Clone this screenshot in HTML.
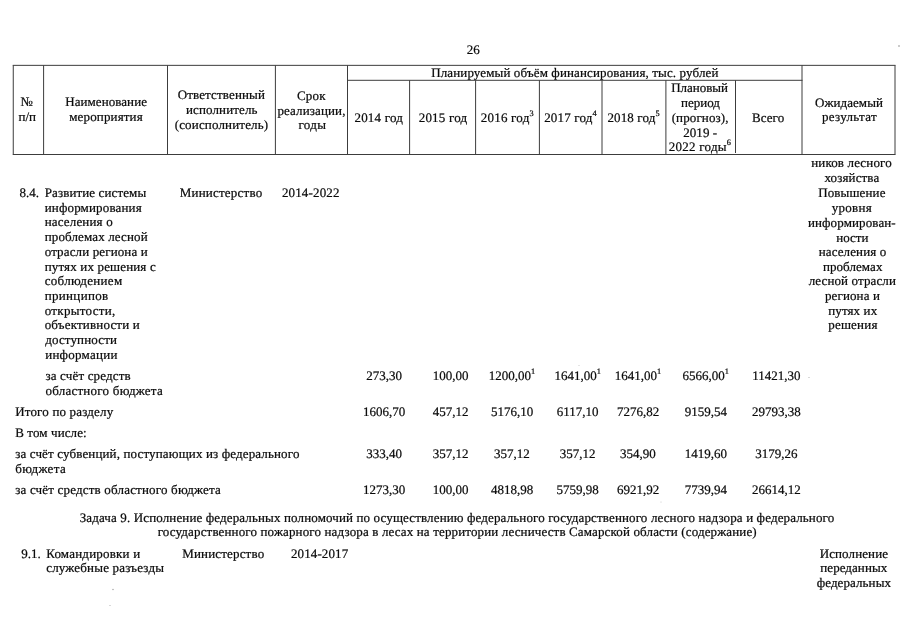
<!DOCTYPE html>
<html><head><meta charset="utf-8"><title>26</title><style>
html,body{margin:0;padding:0;background:#fff;}
body{width:905px;height:640px;position:relative;overflow:hidden;font-family:"Liberation Serif",serif;font-size:13.0px;line-height:16px;color:#0a0a0a;text-rendering:geometricPrecision;-webkit-text-stroke:0.22px #0a0a0a;}
#tx{position:absolute;left:0;top:0;width:905px;height:640px;will-change:transform;}
.t{position:absolute;white-space:nowrap;}
.s{font-size:8.3px;position:relative;top:-5.6px;letter-spacing:0;}
</style></head><body>
<svg width="905" height="640" viewBox="0 0 905 640" style="position:absolute;left:0;top:0">
<line x1="12.75" y1="65.35" x2="895.50" y2="65.35" stroke="#3c3c3c" stroke-width="1.00"/>
<line x1="12.75" y1="154.50" x2="895.50" y2="154.50" stroke="#3c3c3c" stroke-width="1.00"/>
<line x1="347.50" y1="80.30" x2="802.50" y2="80.30" stroke="#3c3c3c" stroke-width="1.00"/>
<line x1="13.25" y1="65.35" x2="13.25" y2="154.50" stroke="#3c3c3c" stroke-width="1.00"/>
<line x1="43.60" y1="65.35" x2="43.60" y2="154.50" stroke="#3c3c3c" stroke-width="1.00"/>
<line x1="167.50" y1="65.35" x2="167.50" y2="154.50" stroke="#3c3c3c" stroke-width="1.00"/>
<line x1="275.40" y1="65.35" x2="275.40" y2="154.50" stroke="#3c3c3c" stroke-width="1.00"/>
<line x1="347.50" y1="65.35" x2="347.50" y2="154.50" stroke="#3c3c3c" stroke-width="1.00"/>
<line x1="802.00" y1="65.35" x2="802.00" y2="154.50" stroke="#3c3c3c" stroke-width="1.00"/>
<line x1="895.00" y1="65.35" x2="895.00" y2="154.50" stroke="#3c3c3c" stroke-width="1.00"/>
<line x1="409.60" y1="80.30" x2="409.60" y2="154.50" stroke="#3c3c3c" stroke-width="1.00"/>
<line x1="475.60" y1="80.30" x2="475.60" y2="154.50" stroke="#3c3c3c" stroke-width="1.00"/>
<line x1="539.40" y1="80.30" x2="539.40" y2="154.50" stroke="#3c3c3c" stroke-width="1.00"/>
<line x1="602.00" y1="80.30" x2="602.00" y2="154.50" stroke="#3c3c3c" stroke-width="1.00"/>
<line x1="665.90" y1="80.30" x2="665.90" y2="154.50" stroke="#3c3c3c" stroke-width="1.00"/>
<line x1="735.50" y1="80.30" x2="735.50" y2="153.00" stroke="#3c3c3c" stroke-width="1.00"/>
<circle cx="113.0" cy="589.5" r="0.7" fill="#999"/>
<circle cx="110.0" cy="605.5" r="0.6" fill="#aaa"/>
<circle cx="899.0" cy="46.0" r="0.8" fill="#888"/>
<circle cx="809.0" cy="377.5" r="0.6" fill="#aaa"/>
<circle cx="661.0" cy="502.0" r="0.5" fill="#bbb"/>
<circle cx="579.0" cy="365.5" r="0.5" fill="#bbb"/>
</svg>
<div id="tx">
<div class="t" style="left:466.70px;top:41.75px;letter-spacing:0.000px">26</div>
<div class="t" style="left:20.62px;top:94.40px;letter-spacing:0.350px">№</div>
<div class="t" style="left:18.45px;top:109.40px;letter-spacing:-0.016px">п/п</div>
<div class="t" style="left:65.20px;top:94.40px;letter-spacing:0.068px">Наименование</div>
<div class="t" style="left:69.20px;top:109.40px;letter-spacing:0.148px">мероприятия</div>
<div class="t" style="left:177.70px;top:87.25px;letter-spacing:0.134px">Ответственный</div>
<div class="t" style="left:185.95px;top:102.25px;letter-spacing:0.122px">исполнитель</div>
<div class="t" style="left:174.70px;top:116.75px;letter-spacing:0.163px">(соисполнитель)</div>
<div class="t" style="left:296.95px;top:88.00px;letter-spacing:0.250px">Срок</div>
<div class="t" style="left:277.45px;top:103.00px;letter-spacing:0.120px">реализации,</div>
<div class="t" style="left:298.43px;top:117.25px;letter-spacing:0.350px">годы</div>
<div class="t" style="left:431.20px;top:65.00px;letter-spacing:0.126px">Планируемый объём финансирования, тыс. рублей</div>
<div class="t" style="left:354.45px;top:110.00px;letter-spacing:0.214px">2014 год</div>
<div class="t" style="left:418.70px;top:110.00px;letter-spacing:0.214px">2015 год</div>
<div class="t" style="left:480.70px;top:110.00px;letter-spacing:0.230px">2016 год<span class="s">3</span></div>
<div class="t" style="left:544.20px;top:110.00px;letter-spacing:0.168px">2017 год<span class="s">4</span></div>
<div class="t" style="left:607.45px;top:110.00px;letter-spacing:0.137px">2018 год<span class="s">5</span></div>
<div class="t" style="left:671.20px;top:80.00px;letter-spacing:-0.027px">Плановый</div>
<div class="t" style="left:681.03px;top:95.00px;letter-spacing:0.000px">период</div>
<div class="t" style="left:671.70px;top:109.75px;letter-spacing:0.106px">(прогноз),</div>
<div class="t" style="left:683.20px;top:124.75px;letter-spacing:0.081px">2019 -</div>
<div class="t" style="left:668.70px;top:138.75px;letter-spacing:0.262px">2022 годы<span class="s">6</span></div>
<div class="t" style="left:751.95px;top:109.75px;letter-spacing:0.090px">Всего</div>
<div class="t" style="left:814.95px;top:95.00px;letter-spacing:0.074px">Ожидаемый</div>
<div class="t" style="left:821.95px;top:109.40px;letter-spacing:0.330px">результат</div>
<div class="t" style="left:811.20px;top:155.00px;letter-spacing:0.143px">ников лесного</div>
<div class="t" style="left:824.45px;top:169.75px;letter-spacing:0.123px">хозяйства</div>
<div class="t" style="left:818.20px;top:184.50px;letter-spacing:0.127px">Повышение</div>
<div class="t" style="left:831.70px;top:199.50px;letter-spacing:0.284px">уровня</div>
<div class="t" style="left:807.95px;top:214.50px;letter-spacing:0.116px">информирован-</div>
<div class="t" style="left:836.20px;top:229.60px;letter-spacing:0.012px">ности</div>
<div class="t" style="left:818.70px;top:243.75px;letter-spacing:0.117px">населения о</div>
<div class="t" style="left:822.95px;top:258.50px;letter-spacing:0.072px">проблемах</div>
<div class="t" style="left:808.70px;top:273.00px;letter-spacing:0.121px">лесной отрасли</div>
<div class="t" style="left:824.95px;top:287.75px;letter-spacing:0.125px">региона и</div>
<div class="t" style="left:828.20px;top:302.50px;letter-spacing:0.121px">путях их</div>
<div class="t" style="left:828.20px;top:317.25px;letter-spacing:0.216px">решения</div>
<div class="t" style="left:19.50px;top:184.60px;letter-spacing:0.000px">8.4.</div>
<div class="t" style="left:44.70px;top:184.50px;letter-spacing:0.113px">Развитие системы</div>
<div class="t" style="left:44.70px;top:199.50px;letter-spacing:0.156px">информирования</div>
<div class="t" style="left:44.70px;top:214.25px;letter-spacing:0.167px">населения о</div>
<div class="t" style="left:44.70px;top:229.00px;letter-spacing:0.138px">проблемах лесной</div>
<div class="t" style="left:44.70px;top:243.75px;letter-spacing:0.131px">отрасли региона и</div>
<div class="t" style="left:44.70px;top:258.50px;letter-spacing:0.154px">путях их решения с</div>
<div class="t" style="left:44.70px;top:273.00px;letter-spacing:0.309px">соблюдением</div>
<div class="t" style="left:44.70px;top:288.00px;letter-spacing:0.326px">принципов</div>
<div class="t" style="left:44.70px;top:302.50px;letter-spacing:0.294px">открытости,</div>
<div class="t" style="left:44.70px;top:317.25px;letter-spacing:0.171px">объективности и</div>
<div class="t" style="left:45.20px;top:331.75px;letter-spacing:0.138px">доступности</div>
<div class="t" style="left:45.20px;top:346.50px;letter-spacing:0.259px">информации</div>
<div class="t" style="left:179.70px;top:184.50px;letter-spacing:0.213px">Министерство</div>
<div class="t" style="left:281.95px;top:184.75px;letter-spacing:0.145px">2014-2022</div>
<div class="t" style="left:45.45px;top:368.00px;letter-spacing:0.162px">за счёт средств</div>
<div class="t" style="left:45.45px;top:382.50px;letter-spacing:0.239px">областного бюджета</div>
<div class="t" style="left:15.20px;top:403.75px;letter-spacing:0.173px">Итого по разделу</div>
<div class="t" style="left:15.20px;top:425.00px;letter-spacing:0.109px">В том числе:</div>
<div class="t" style="left:15.20px;top:446.00px;letter-spacing:0.142px">за счёт субвенций, поступающих из федерального</div>
<div class="t" style="left:15.20px;top:460.50px;letter-spacing:0.336px">бюджета</div>
<div class="t" style="left:15.20px;top:481.75px;letter-spacing:0.184px">за счёт средств областного бюджета</div>
<div class="t" style="left:79.70px;top:509.50px;letter-spacing:0.132px">Задача 9. Исполнение федеральных полномочий по осуществлению федерального государственного лесного надзора и федерального</div>
<div class="t" style="left:157.70px;top:524.00px;letter-spacing:0.140px">государственного пожарного надзора в лесах на территории лесничеств Самарской области (содержание)</div>
<div class="t" style="left:21.25px;top:545.50px;letter-spacing:0.000px">9.1.</div>
<div class="t" style="left:46.20px;top:545.50px;letter-spacing:0.204px">Командировки и</div>
<div class="t" style="left:46.20px;top:560.40px;letter-spacing:0.187px">служебные разъезды</div>
<div class="t" style="left:182.20px;top:545.60px;letter-spacing:0.168px">Министерство</div>
<div class="t" style="left:290.95px;top:545.60px;letter-spacing:0.113px">2014-2017</div>
<div class="t" style="left:819.70px;top:545.75px;letter-spacing:0.106px">Исполнение</div>
<div class="t" style="left:820.30px;top:560.40px;letter-spacing:0.060px">переданных</div>
<div class="t" style="left:816.70px;top:574.75px;letter-spacing:0.089px">федеральных</div>
<div class="t" style="left:366.32px;top:367.50px;letter-spacing:0.000px">273,30</div>
<div class="t" style="left:432.82px;top:367.50px;letter-spacing:0.000px">100,00</div>
<div class="t" style="left:488.80px;top:367.50px;letter-spacing:0.000px">1200,00<span class="s">1</span></div>
<div class="t" style="left:554.40px;top:367.50px;letter-spacing:0.000px">1641,00<span class="s">1</span></div>
<div class="t" style="left:614.80px;top:367.50px;letter-spacing:0.000px">1641,00<span class="s">1</span></div>
<div class="t" style="left:682.60px;top:367.50px;letter-spacing:0.000px">6566,00<span class="s">1</span></div>
<div class="t" style="left:752.16px;top:367.50px;letter-spacing:0.000px">11421,30</div>
<div class="t" style="left:363.07px;top:403.50px;letter-spacing:0.000px">1606,70</div>
<div class="t" style="left:432.82px;top:403.50px;letter-spacing:0.000px">457,12</div>
<div class="t" style="left:490.88px;top:403.50px;letter-spacing:0.000px">5176,10</div>
<div class="t" style="left:556.71px;top:403.50px;letter-spacing:0.000px">6117,10</div>
<div class="t" style="left:616.88px;top:403.50px;letter-spacing:0.000px">7276,82</div>
<div class="t" style="left:684.67px;top:403.50px;letter-spacing:0.000px">9159,54</div>
<div class="t" style="left:751.92px;top:403.50px;letter-spacing:0.000px">29793,38</div>
<div class="t" style="left:366.32px;top:446.00px;letter-spacing:0.000px">333,40</div>
<div class="t" style="left:432.82px;top:446.00px;letter-spacing:0.000px">357,12</div>
<div class="t" style="left:494.12px;top:446.00px;letter-spacing:0.000px">357,12</div>
<div class="t" style="left:559.73px;top:446.00px;letter-spacing:0.000px">357,12</div>
<div class="t" style="left:620.12px;top:446.00px;letter-spacing:0.000px">354,90</div>
<div class="t" style="left:684.67px;top:446.00px;letter-spacing:0.000px">1419,60</div>
<div class="t" style="left:755.17px;top:446.00px;letter-spacing:0.000px">3179,26</div>
<div class="t" style="left:363.07px;top:481.75px;letter-spacing:0.000px">1273,30</div>
<div class="t" style="left:432.82px;top:481.75px;letter-spacing:0.000px">100,00</div>
<div class="t" style="left:490.88px;top:481.75px;letter-spacing:0.000px">4818,98</div>
<div class="t" style="left:556.48px;top:481.75px;letter-spacing:0.000px">5759,98</div>
<div class="t" style="left:616.88px;top:481.75px;letter-spacing:0.000px">6921,92</div>
<div class="t" style="left:684.67px;top:481.75px;letter-spacing:0.000px">7739,94</div>
<div class="t" style="left:751.92px;top:481.75px;letter-spacing:0.000px">26614,12</div>
</div>
</body></html>
